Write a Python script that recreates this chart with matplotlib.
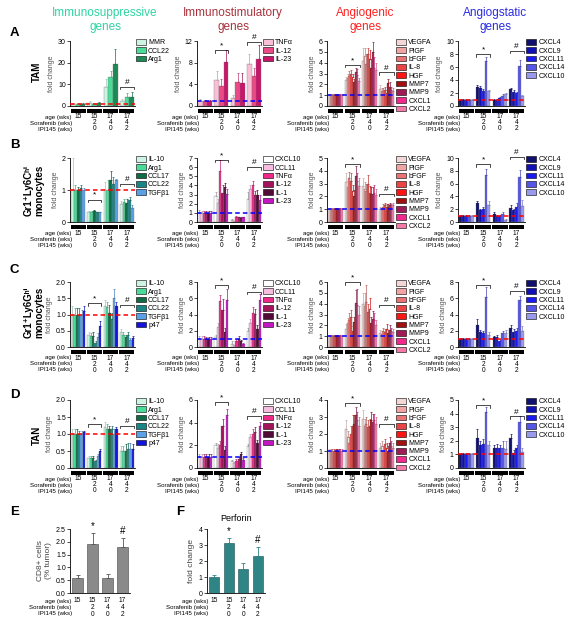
import numpy as np
import matplotlib
matplotlib.use("Agg")
import matplotlib.pyplot as plt
import matplotlib.colors as mcolors
from matplotlib import transforms
from matplotlib.patches import Patch

plt.rcParams["font.family"] = ["Liberation Sans", "DejaVu Sans"]

W, H = 571, 630

# ---- table under each panel ----
AGE = ["15", "15", "17", "17"]
SORA = ["", "2", "4", "4"]
IPI = ["", "0", "0", "2"]

# ---- genes and colours ----
SUPP_A_GENES = ["MMR", "CCL22", "Arg1"]
SUPP_A_COLORS = ["#cdf3e3", "#48dc98", "#1d8a55"]
SUPP_GENES = ["IL-10", "Arg1", "CCL17", "CCL22", "TGFβ1", "p47"]
SUPP_COLORS = ["#cdf3e3", "#48dc98", "#106a45", "#1a8585", "#5aa0e6", "#1414e0"]
STIM_A_GENES = ["TNFα", "IL-12", "IL-23"]
STIM_A_COLORS = ["#f9bfd6", "#ea4b86", "#c8166a"]
STIM_GENES = ["CXCL10", "CCL11", "TNFα", "IL-12", "IL-1", "IL-23"]
STIM_COLORS = ["#ffffff", "#f6bde0", "#f0288a", "#a3145a", "#520a36", "#c414c4"]
ANGIO_GENES = ["VEGFA", "PlGF", "bFGF", "IL-8", "HGF", "MMP7", "MMP9", "CXCL1", "CXCL2"]
ANGIO_COLORS = ["#f3d6d6", "#f0a4a4", "#ea7474", "#ec4444", "#ff1414",
                "#a40f10", "#a01a55", "#f2288e", "#f47aa8"]
STATIC_GENES = ["CXCL4", "CXCL9", "CXCL11", "CXCL14", "CXCL10"]
STATIC_COLORS = ["#10106e", "#1010b4", "#1a1af2", "#5656e6", "#9a9aec"]

# ---- row A: TAM ----
A_SUPP = [[1.0, 1.0, 1.0], [1.6, 1.0, 1.4], [9.0, 13.5, 19.5], [2.2, 4.0, 4.2]]
A_SUPP_ERR = [[0.3, 0.2, 0.2], [0.8, 0.4, 0.6], [3.5, 2.5, 7.0], [1.0, 1.8, 2.3]]
A_STIM = [[1.0, 1.0, 1.0], [4.8, 3.7, 8.1], [1.5, 4.5, 4.2], [7.8, 5.6, 8.6]]
A_STIM_ERR = [[0.3, 0.2, 0.2], [1.7, 1.2, 2.2], [0.6, 1.6, 1.9], [1.8, 1.4, 2.6]]
A_ANGIO = [[1.0, 1.0, 1.0, 1.0, 1.0, 1.0, 1.0, 1.0, 1.0],
           [2.4, 2.6, 2.8, 3.0, 2.7, 2.2, 3.1, 2.9, 2.3],
           [4.2, 4.6, 3.9, 4.8, 4.3, 3.5, 5.0, 3.5, 3.3],
           [1.6, 1.4, 1.4, 1.5, 1.2, 2.1, 1.8, 1.5, 1.4]]
A_ANGIO_ERR = [[0.1, 0.1, 0.1, 0.1, 0.1, 0.1, 0.1, 0.1, 0.1],
               [0.3, 0.4, 0.4, 0.3, 0.3, 0.3, 0.4, 0.5, 0.3],
               [1.2, 0.8, 0.9, 0.6, 0.9, 0.8, 0.9, 1.0, 0.7],
               [0.3, 0.3, 0.3, 0.3, 0.3, 0.4, 0.4, 0.3, 0.3]]
A_STATIC = [[1.0, 1.0, 1.0, 1.0, 1.0], [3.0, 2.7, 2.3, 7.0, 2.3],
            [1.0, 1.0, 1.2, 1.5, 1.8], [2.6, 2.2, 2.0, 6.1, 1.5]]
A_STATIC_ERR = [[0.1, 0.1, 0.1, 0.1, 0.1], [0.3, 0.4, 0.3, 0.6, 0.2],
                [0.1, 0.1, 0.2, 0.3, 0.2], [0.2, 0.3, 0.2, 1.0, 0.2]]

# ---- row B: Gr1+Ly6Chi monocytes ----
B_SUPP = [[1.0, 1.0, 1.0, 1.05, 1.0], [0.30, 0.30, 0.33, 0.30, 0.30],
          [1.0, 1.0, 1.3, 1.2, 1.3], [0.55, 0.62, 0.58, 0.68, 0.43]]
B_SUPP_ERR = [[1.0, 0.15, 0.1, 0.1, 0.05], [0.03, 0.03, 0.03, 0.02, 0.02],
              [0.25, 0.3, 0.3, 0.2, 0.05], [0.1, 0.1, 0.15, 0.1, 0.1]]
B_STIM = [[1.0, 1.0, 1.0, 1.0, 1.0, 1.0], [2.8, 2.1, 5.6, 3.2, 3.8, 3.1],
          [0.2, 0.1, 0.6, 0.5, 0.4, 0.5], [2.5, 3.6, 4.0, 2.9, 2.9, 2.4]]
B_STIM_ERR = [[0.3, 0.2, 0.2, 0.2, 0.2, 0.2], [0.5, 0.4, 1.2, 0.8, 0.5, 0.5],
              [0.1, 0.05, 0.1, 0.1, 0.1, 0.1], [0.8, 0.5, 0.5, 0.5, 0.6, 0.5]]
B_ANGIO = [[1.0, 1.0, 1.0, 1.0, 1.0, 1.0, 1.0, 1.0, 1.0],
           [3.1, 2.7, 3.4, 3.2, 2.4, 2.0, 3.6, 3.2, 2.8],
           [2.8, 2.6, 2.4, 3.0, 2.3, 2.2, 2.2, 2.3, 2.1],
           [1.0, 0.9, 1.2, 1.3, 1.2, 1.2, 1.3, 1.2, 1.3]]
B_ANGIO_ERR = [[0.1, 0.1, 0.1, 0.1, 0.1, 0.1, 0.1, 0.1, 0.1],
               [0.7, 0.5, 0.5, 0.6, 0.5, 0.5, 0.8, 0.6, 0.6],
               [0.6, 0.5, 0.6, 0.7, 0.5, 0.5, 0.5, 0.6, 0.5],
               [0.2, 0.2, 0.2, 0.2, 0.2, 0.2, 0.2, 0.2, 0.2]]
B_STATIC = [[1.0, 1.0, 1.0, 1.0, 1.0], [3.0, 1.8, 2.1, 7.3, 2.7],
            [1.3, 0.9, 0.9, 1.2, 0.3], [2.2, 1.8, 2.4, 7.0, 2.5]]
B_STATIC_ERR = [[0.1, 0.1, 0.1, 0.1, 0.1], [0.3, 0.3, 0.3, 1.0, 0.6],
                [0.2, 0.2, 0.2, 0.3, 0.1], [0.5, 0.3, 0.5, 1.2, 0.9]]

# ---- row C: Gr1+Ly6Ghi monocytes ----
C_SUPP = [[1.0, 1.0, 1.0, 1.0, 1.0, 1.1], [0.38, 0.35, 0.35, 0.12, 0.32, 0.65],
          [1.25, 1.22, 1.05, 0.85, 1.5, 1.25], [0.45, 0.38, 0.30, 0.38, 0.22, 0.28]]
C_SUPP_ERR = [[0.25, 0.2, 0.2, 0.2, 0.15, 0.15], [0.08, 0.08, 0.1, 0.05, 0.1, 0.15],
              [0.2, 0.15, 0.25, 0.2, 0.3, 0.15], [0.1, 0.08, 0.08, 0.08, 0.06, 0.06]]
C_STIM = [[1.0, 1.0, 1.0, 1.0, 1.0, 1.0], [1.2, 2.5, 5.7, 4.6, 1.9, 5.8],
          [0.4, 0.2, 0.8, 1.0, 0.7, 0.4], [2.0, 2.9, 4.2, 4.1, 2.2, 5.8]]
C_STIM_ERR = [[0.3, 0.3, 0.3, 0.2, 0.2, 0.2], [0.3, 0.5, 0.7, 1.3, 0.5, 1.3],
              [0.3, 0.1, 0.2, 0.3, 0.2, 0.1], [0.4, 0.6, 0.7, 0.6, 0.5, 0.7]]
C_ANGIO = [[1.0, 1.0, 1.0, 1.0, 1.0, 1.0, 1.0, 1.0, 1.0],
           [1.7, 2.2, 2.5, 2.8, 1.5, 2.3, 4.1, 3.9, 3.0],
           [4.0, 3.8, 4.2, 3.2, 3.5, 2.2, 2.6, 2.5, 2.0],
           [1.3, 1.2, 1.5, 1.4, 1.7, 1.3, 1.6, 1.5, 1.4]]
C_ANGIO_ERR = [[0.1, 0.1, 0.1, 0.1, 0.1, 0.1, 0.1, 0.1, 0.1],
               [0.4, 0.5, 0.6, 0.6, 0.4, 0.5, 1.2, 1.5, 0.8],
               [1.0, 1.2, 1.5, 0.8, 1.0, 0.6, 0.7, 0.6, 0.5],
               [0.3, 0.3, 0.3, 0.3, 0.4, 0.3, 0.4, 0.3, 0.3]]
C_STATIC = [[1.0, 1.0, 1.0, 1.0, 1.0], [2.7, 1.8, 1.7, 6.2, 1.5],
            [1.2, 1.2, 0.8, 1.7, 1.7], [2.4, 1.9, 2.0, 5.8, 2.0]]
C_STATIC_ERR = [[0.1, 0.1, 0.1, 0.1, 0.1], [0.8, 0.3, 0.3, 1.2, 0.3],
                [0.2, 0.3, 0.2, 0.3, 0.4], [0.3, 0.3, 0.3, 0.5, 0.6]]

# ---- row D: TAN ----
D_SUPP = [[1.0, 1.0, 1.0, 1.0, 1.0, 1.05], [0.30, 0.30, 0.30, 0.20, 0.35, 0.50],
          [1.2, 1.15, 1.15, 1.15, 1.0, 1.15], [0.5, 0.5, 0.5, 0.55, 0.55, 0.55]]
D_SUPP_ERR = [[0.15, 0.15, 0.15, 0.1, 0.1, 0.05], [0.05, 0.05, 0.05, 0.03, 0.05, 0.05],
              [0.15, 0.15, 0.1, 0.1, 0.15, 0.05], [0.15, 0.15, 0.2, 0.2, 0.2, 0.15]]
D_STIM = [[1.0, 1.0, 1.0, 1.0, 1.0, 1.0], [2.0, 1.8, 2.0, 3.7, 1.6, 4.7],
          [0.6, 0.4, 0.6, 0.8, 1.2, 0.7], [1.9, 2.7, 3.0, 3.2, 2.2, 3.7]]
D_STIM_ERR = [[0.2, 0.2, 0.2, 0.2, 0.2, 0.2], [0.2, 0.3, 0.4, 0.6, 0.3, 0.5],
              [0.1, 0.1, 0.2, 0.2, 0.2, 0.2], [0.2, 0.3, 0.4, 0.4, 0.3, 0.4]]
D_ANGIO = [[1.0, 1.0, 1.0, 1.0, 1.0, 1.0, 1.0, 1.0, 1.0],
           [2.3, 1.8, 1.5, 2.0, 2.5, 2.6, 3.1, 2.8, 2.5],
           [2.9, 2.5, 2.6, 2.4, 2.5, 2.8, 2.7, 2.8, 2.6],
           [1.2, 1.3, 1.0, 1.4, 1.2, 1.0, 1.5, 1.3, 1.2]]
D_ANGIO_ERR = [[0.1, 0.1, 0.1, 0.1, 0.1, 0.1, 0.1, 0.1, 0.1],
               [0.5, 0.4, 0.3, 0.5, 0.6, 0.5, 0.5, 0.5, 0.5],
               [0.5, 0.4, 0.4, 0.4, 0.4, 0.5, 0.5, 0.4, 0.4],
               [0.3, 0.3, 0.3, 0.3, 0.3, 0.3, 0.3, 0.3, 0.3]]
D_STATIC = [[1.0, 1.0, 1.0, 1.0, 1.0], [2.2, 1.7, 1.8, 4.1, 1.7],
            [1.5, 1.5, 1.5, 1.5, 1.4], [2.2, 1.1, 1.5, 3.4, 1.2]]
D_STATIC_ERR = [[0.1, 0.1, 0.1, 0.1, 0.1], [0.7, 0.3, 0.3, 0.4, 0.3],
                [0.2, 0.3, 0.2, 0.5, 0.6], [0.3, 0.2, 0.2, 0.4, 0.3]]

# ---- E / F ----
E_VALS = [0.57, 1.93, 0.58, 1.78]
E_ERR = [0.15, 0.42, 0.17, 0.35]
F_VALS = [1.0, 3.1, 1.5, 2.3]
F_ERR = [0.15, 0.35, 0.35, 0.55]

fig = plt.figure(figsize=(W / 100, H / 100), dpi=100)


def add_ax(l, t, r, b):
    return fig.add_axes([l / W, 1 - b / H, (r - l) / W, (b - t) / H])


def darker(c):
    if c == "#ffffff":
        return "#999999"
    r, g, b = mcolors.to_rgb(c)
    return (r * 0.8, g * 0.8, b * 0.8)


def style_ax(ax, ylim, yticks, fmt):
    ax.set_ylim(*ylim)
    ax.set_yticks(yticks)
    ax.set_yticklabels([fmt.format(t) for t in yticks], fontsize=5)
    ax.set_xticks([])
    for s in ["top", "right"]:
        ax.spines[s].set_visible(False)
    for s in ["left", "bottom"]:
        ax.spines[s].set_linewidth(0.6)
    ax.tick_params(axis="y", length=2, width=0.5, pad=1)


def table(ax, offsets, bars=True):
    blend = transforms.blended_transform_factory(ax.transData, ax.transAxes)
    rows = [("age (wks)", AGE), ("Sorafenib (wks)", SORA), ("IPI145 (wks)", IPI)]
    for (name, vals), dy in zip(rows, offsets):
        tr = transforms.offset_copy(blend, fig=fig, x=0, y=-dy, units="dots")
        tra = transforms.offset_copy(ax.transAxes, fig=fig, x=0, y=-dy, units="dots")
        ax.text(0.03, 0, name, transform=tra, ha="right", va="center", fontsize=4.4)
        for g, v in enumerate(vals):
            ax.text(g, 0, v, transform=tr, ha="center", va="center", fontsize=4.8)
    if bars:
        tr = transforms.offset_copy(blend, fig=fig, x=0, y=-4.5, units="dots")
        for g in range(4):
            ax.plot([g - 0.46, g + 0.46], [0, 0], color="k", lw=2.9,
                    solid_capstyle="butt", transform=tr, clip_on=False)


def bracket(ax, g, sym, y, ylim):
    t = (ylim[1] - ylim[0]) * 0.04
    ax.plot([g - 0.42, g - 0.42, g + 0.42, g + 0.42], [y - t, y, y, y - t],
            color="k", lw=0.5, clip_on=False)
    ax.text(g, y + t * 0.3, sym, ha="center", va="bottom", fontsize=6, clip_on=False)


def gene_panel(ax, vals, errs, genes, colors, ylim, yticks, fmt, line_color, sigs):
    n = len(genes)
    gw = 0.86
    bw = gw / n
    for g in range(4):
        for i in range(n):
            x = g - gw / 2 + bw * (i + 0.5)
            ax.bar(x, vals[g][i], width=bw, color=colors[i], edgecolor="#777777",
                   linewidth=0.25, zorder=2)
            ax.errorbar(x, vals[g][i], yerr=[[0], [errs[g][i]]], fmt="none",
                        ecolor=darker(colors[i]), elinewidth=0.5, capsize=0.8,
                        capthick=0.5, zorder=2)
    ax.axhline(1, color=line_color, ls=(0, (3, 2)), lw=1.1, zorder=3)
    ax.set_xlim(-0.5, 3.5)
    style_ax(ax, ylim, yticks, fmt)
    ax.set_ylabel("fold change", fontsize=5, color="#555555", labelpad=2)
    handles = [Patch(facecolor=c, edgecolor="k", linewidth=0.4) for c in colors]
    ax.legend(handles, genes, loc="upper left", bbox_to_anchor=(1.02, 1.03),
              frameon=False, fontsize=5, handlelength=1.4, handleheight=0.9,
              labelspacing=0.15, handletextpad=0.3, borderpad=0, borderaxespad=0)
    for g, sym, y in sigs:
        bracket(ax, g, sym, y, ylim)
    table(ax, [11, 17, 23])


COLS = [(70, 135), (197, 262), (327, 395), (458, 525)]
ROWS = [(41, 106), (158, 222), (282, 347), (400, 468)]

panels = [
    # row A
    [(A_SUPP, A_SUPP_ERR, SUPP_A_GENES, SUPP_A_COLORS, (0, 30), [0, 10, 20, 30], "{:g}", "red", [(3, "#", 9)]),
     (A_STIM, A_STIM_ERR, STIM_A_GENES, STIM_A_COLORS, (0, 12), [0, 4, 8, 12], "{:g}", "blue", [(1, "*", 10.3), (3, "#", 11.8)]),
     (A_ANGIO, A_ANGIO_ERR, ANGIO_GENES, ANGIO_COLORS, (0, 6), [0, 1, 2, 3, 4, 5, 6], "{:g}", "blue", [(1, "*", 3.8), (3, "#", 3.1)]),
     (A_STATIC, A_STATIC_ERR, STATIC_GENES, STATIC_COLORS, (0, 10), [0, 2, 4, 6, 8, 10], "{:g}", "red", [(1, "*", 8.0), (3, "#", 8.5)])],
    # row B
    [(B_SUPP, B_SUPP_ERR, SUPP_GENES[:5], SUPP_COLORS[:5], (0, 2), [0, 1, 2], "{:g}", "red", [(1, "*", 0.7), (3, "#", 1.2)]),
     (B_STIM, B_STIM_ERR, STIM_GENES, STIM_COLORS, (0, 7), [0, 1, 2, 3, 4, 5, 6, 7], "{:g}", "blue", [(1, "*", 6.8), (3, "#", 6.0)]),
     (B_ANGIO, B_ANGIO_ERR, ANGIO_GENES, ANGIO_COLORS, (0, 5), [0, 1, 2, 3, 4, 5], "{:g}", "blue", [(1, "*", 4.5), (3, "#", 2.2)]),
     (B_STATIC, B_STATIC_ERR, STATIC_GENES, STATIC_COLORS, (0, 10), [0, 2, 4, 6, 8, 10], "{:g}", "red", [(1, "*", 9.0), (3, "#", 10.2)])],
    # row C
    [(C_SUPP, C_SUPP_ERR, SUPP_GENES, SUPP_COLORS, (0, 2), [0, 0.5, 1, 1.5, 2], "{:.1f}", "red", [(1, "*", 1.35), (3, "#", 1.3)]),
     (C_STIM, C_STIM_ERR, STIM_GENES, STIM_COLORS, (0, 8), [0, 2, 4, 6, 8], "{:g}", "blue", [(1, "*", 7.6), (3, "#", 6.8)]),
     (C_ANGIO, C_ANGIO_ERR, ANGIO_GENES, ANGIO_COLORS, (0, 6), [0, 1, 2, 3, 4, 5, 6], "{:g}", "blue", [(1, "*", 6.0), (3, "#", 3.9)]),
     (C_STATIC, C_STATIC_ERR, STATIC_GENES, STATIC_COLORS, (0, 8), [0, 2, 4, 6, 8], "{:g}", "red", [(1, "*", 7.6), (3, "#", 6.9)])],
    # row D
    [(D_SUPP, D_SUPP_ERR, SUPP_GENES, SUPP_COLORS, (0, 2), [0, 0.5, 1, 1.5, 2], "{:.1f}", "red", [(1, "*", 1.3), (3, "#", 1.25)]),
     (D_STIM, D_STIM_ERR, STIM_GENES, STIM_COLORS, (0, 6), [0, 2, 4, 6], "{:g}", "blue", [(1, "*", 5.8), (3, "#", 4.6)]),
     (D_ANGIO, D_ANGIO_ERR, ANGIO_GENES, ANGIO_COLORS, (0, 4), [0, 1, 2, 3, 4], "{:g}", "blue", [(1, "*", 3.8), (3, "#", 2.6)]),
     (D_STATIC, D_STATIC_ERR, STATIC_GENES, STATIC_COLORS, (0, 5), [0, 1, 2, 3, 4, 5], "{:g}", "red", [(1, "*", 4.6), (3, "#", 3.8)])],
]

for (t, b), row in zip(ROWS, panels):
    for (l, r), p in zip(COLS, row):
        ax = add_ax(l, t, r, b)
        gene_panel(ax, *p)

# column titles
titles = [("Immunosuppressive\ngenes", "#2ed4a2", 105),
          ("Immunostimulatory\ngenes", "#a8323c", 233),
          ("Angiogenic\ngenes", "#ff2020", 365),
          ("Angiogstatic\ngenes", "#2a2ae6", 495)]
for txt, c, x in titles:
    fig.text(x / W, 1 - 20 / H, txt, color=c, fontsize=8.5, ha="center",
             va="center", linespacing=1.15)

# panel letters and cell type labels
for letter, x, y in [("A", 10, 33), ("B", 10, 145), ("C", 10, 270),
                     ("D", 10, 395), ("E", 10, 512), ("F", 176, 512)]:
    fig.text(x / W, 1 - y / H, letter, fontsize=9.5, fontweight="bold",
             va="center", ha="left")

for txt, x, y in [("TAM", 37, 72), ("Gr1⁺Ly6Cʰⁱ\nmonocytes", 34, 190),
                  ("Gr1⁺Ly6Gʰⁱ\nmonocytes", 34, 312), ("TAN", 37, 435)]:
    fig.text(x / W, 1 - y / H, txt, fontsize=7, fontweight="bold",
             rotation=90, ha="center", va="center", linespacing=1.05)

# ---- E ----
axE = add_ax(70, 529, 130, 593)
axE.bar(range(4), E_VALS, width=0.72, color="#8a8a8a", edgecolor="#444444", linewidth=0.4)
axE.errorbar(range(4), E_VALS, yerr=[[0] * 4, E_ERR], fmt="none", ecolor="#555555",
             elinewidth=0.6, capsize=1.5, capthick=0.6)
axE.set_xlim(-0.5, 3.5)
style_ax(axE, (0, 2.5), [0, 0.5, 1.0, 1.5, 2.0, 2.5], "{:.1f}")
axE.set_ylabel("CD8+ cells\n(% tumor)", fontsize=6, color="#444444", labelpad=3)
axE.text(1, E_VALS[1] + E_ERR[1] + 0.08, "*", ha="center", va="bottom", fontsize=7)
axE.text(3, E_VALS[3] + E_ERR[3] + 0.08, "#", ha="center", va="bottom", fontsize=7)
table(axE, [8, 14.5, 21], bars=False)

# ---- F ----
axF = add_ax(207, 529, 265, 593)
axF.bar(range(4), F_VALS, width=0.72, color="#2f8585", edgecolor="#1e4f4f", linewidth=0.4)
axF.errorbar(range(4), F_VALS, yerr=[[0] * 4, F_ERR], fmt="none", ecolor="#2f8585",
             elinewidth=0.6, capsize=1.5, capthick=0.6)
axF.set_xlim(-0.5, 3.5)
style_ax(axF, (0, 4), [0, 1, 2, 3, 4], "{:g}")
axF.set_ylabel("fold change", fontsize=6, color="#444444", labelpad=3)
axF.set_title("Perforin", fontsize=6.5, pad=6)
axF.text(1, F_VALS[1] + F_ERR[1] + 0.12, "*", ha="center", va="bottom", fontsize=7)
axF.text(3, F_VALS[3] + F_ERR[3] + 0.12, "#", ha="center", va="bottom", fontsize=7)
table(axF, [8, 14.5, 21], bars=False)

fig.savefig("out.png", dpi=100)
